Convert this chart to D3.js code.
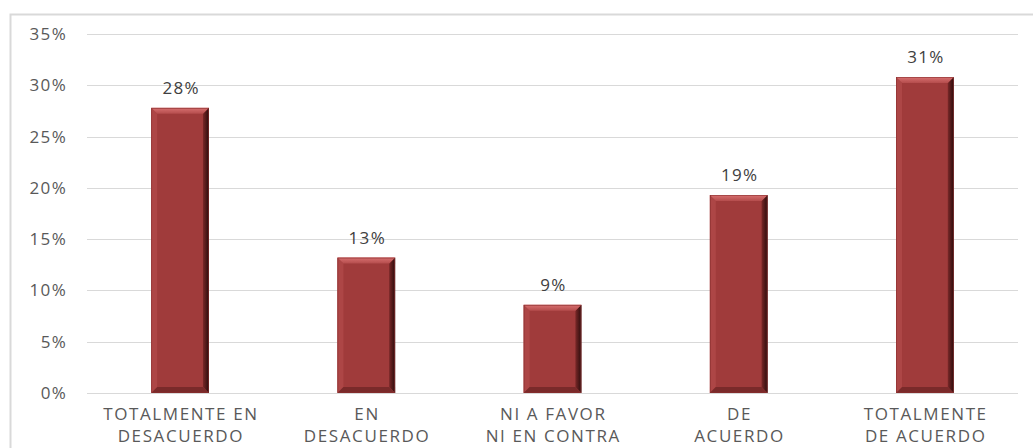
<!DOCTYPE html>
<html><head><meta charset="utf-8">
<script src="https://cdn.jsdelivr.net/npm/d3@7"></script>
<style>html,body{margin:0;padding:0;background:#fff;}svg{display:block;}</style>
</head><body>
<svg id="c" width="1033" height="448"></svg>
<script>
const categories = [["TOTALMENTE EN","DESACUERDO"],["EN","DESACUERDO"],["NI A FAVOR","NI EN CONTRA"],["DE","ACUERDO"],["TOTALMENTE","DE ACUERDO"]];
const values = [27.8, 13.2, 8.6, 19.3, 30.8];
const valueLabels = ["28%","13%","9%","19%","31%"];
const yTicks = [0,5,10,15,20,25,30,35];

const svg = d3.select("#c");
const font = "'Open Sans', sans-serif";
const m = {left:87, right:1018, top:34, bottom:393};

// outer border
svg.append("rect").attr("x",10.5).attr("y",14.5).attr("width",1040).attr("height",460)
  .attr("fill","none").attr("stroke","#d9d9d9").attr("stroke-width",2);

const x = d3.scaleBand().domain(d3.range(categories.length)).range([m.left,m.right]).paddingInner(0.69).paddingOuter(0.345);
const y = d3.scaleLinear().domain([0,35]).range([m.bottom,m.top]);

const defs = svg.append("defs");
const gR = defs.append("linearGradient").attr("id","gr").attr("x1","0").attr("x2","1").attr("y1","0").attr("y2","0");
gR.append("stop").attr("offset","0").attr("stop-color","#7a2828");
gR.append("stop").attr("offset","1").attr("stop-color","#2a0c0c");
const gT = defs.append("linearGradient").attr("id","gt").attr("x1","0").attr("x2","0").attr("y1","0").attr("y2","1");
gT.append("stop").attr("offset","0").attr("stop-color","#d87070");
gT.append("stop").attr("offset","1").attr("stop-color","#b44c4c");

// gridlines
svg.append("g").selectAll("line").data(yTicks).join("line")
  .attr("x1",m.left).attr("x2",m.right)
  .attr("y1",d=>Math.round(y(d))+0.5).attr("y2",d=>Math.round(y(d))+0.5)
  .attr("stroke","#d9d9d9").attr("stroke-width",1);

// y axis labels
const yAxis = d3.axisLeft(y).tickValues(yTicks).tickFormat(d=>d+"%").tickSize(0).tickPadding(0);
const ya = svg.append("g").attr("transform","translate(67,0)").call(yAxis);
ya.select(".domain").remove();
ya.selectAll("text").attr("font-family",font).attr("font-size",17).attr("fill","#595959").attr("letter-spacing",1.3);

// bars
const b = 6;
const bars = svg.append("g").selectAll("g").data(values).join("g");
bars.each(function(v,i){
  const g = d3.select(this);
  const x0 = x(i), w = x.bandwidth(), y0 = y(v), y1 = y(0), x1 = x0+w;
  g.append("rect").attr("x",x0).attr("y",y0).attr("width",w).attr("height",y1-y0).attr("fill","#a03b3b");
  g.append("polygon").attr("points",[[x0,y0],[x0+b,y0+b],[x0+b,y1-b],[x0,y1]].join(" ")).attr("fill","#ad4646");
  g.append("polygon").attr("points",[[x1,y0],[x1-b,y0+b],[x1-b,y1-b],[x1,y1]].join(" ")).attr("fill","url(#gr)");
  g.append("polygon").attr("points",[[x0,y1],[x0+b,y1-b],[x1-b,y1-b],[x1,y1]].join(" ")).attr("fill","#7a2a2a");
  g.append("polygon").attr("points",[[x0,y0],[x1,y0],[x1-b,y0+b],[x0+b,y0+b]].join(" ")).attr("fill","url(#gt)");
  g.append("rect").attr("x",x0+0.5).attr("y",y0+0.5).attr("width",w-1).attr("height",y1-y0-1).attr("fill","none").attr("stroke","#8a3030").attr("stroke-width",0.6);
  g.append("text").attr("x",x0+w/2+1).attr("y",y0-14).attr("text-anchor","middle")
    .attr("font-family",font).attr("font-size",17).attr("fill","#404040").attr("letter-spacing",1.3).text(valueLabels[i]);
});

// baseline
svg.append("line").attr("x1",m.left).attr("x2",m.right).attr("y1",m.bottom+0.5).attr("y2",m.bottom+0.5).attr("stroke","#d9d9d9");

// category labels
const cg = svg.append("g").selectAll("text").data(categories).join("text")
  .attr("x",(d,i)=>x(i)+x.bandwidth()/2+0.8).attr("y",420).attr("text-anchor","middle")
  .attr("font-family",font).attr("font-size",17).attr("fill","#595959").attr("letter-spacing",1.6);
cg.each(function(d){
  const t = d3.select(this);
  d.forEach((line,k)=>t.append("tspan").attr("x",t.attr("x")).attr("dy",k?22:0).text(line));
});
</script>
</body></html>
